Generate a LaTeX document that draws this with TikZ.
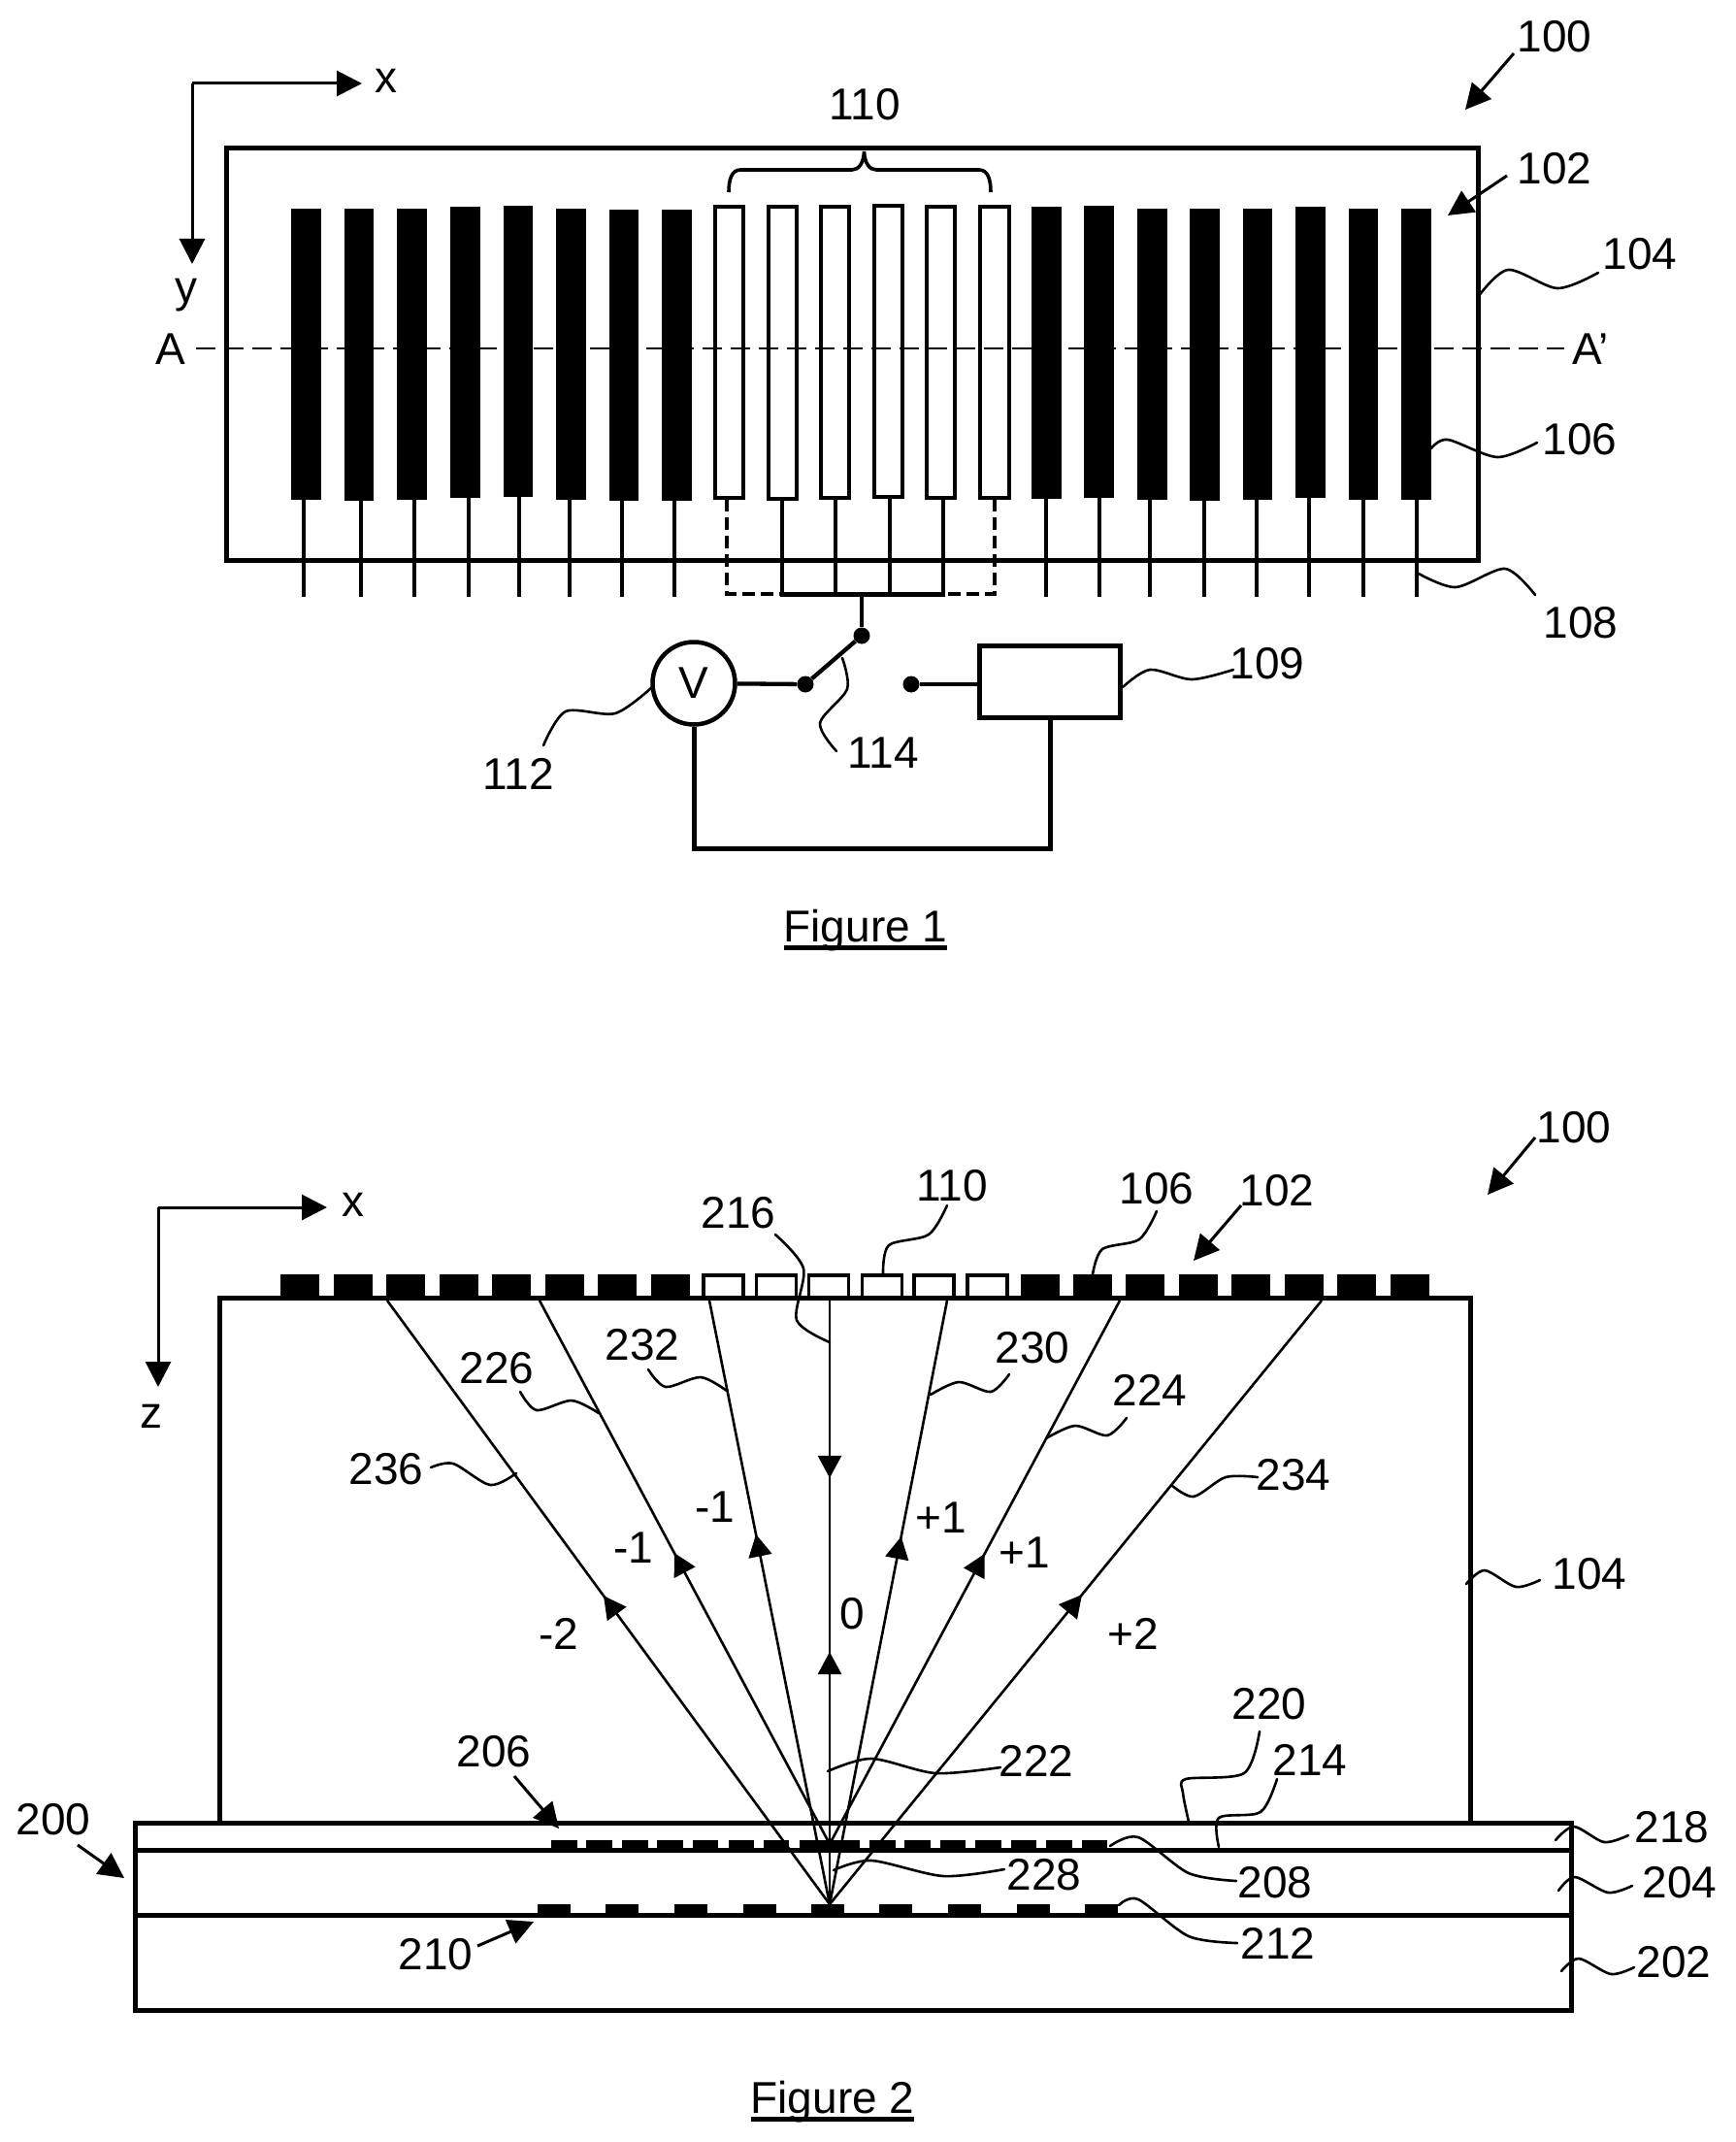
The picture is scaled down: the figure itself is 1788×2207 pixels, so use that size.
\documentclass[tikz,border=0pt]{standalone}
\usepackage{fontspec}
\setmainfont{Liberation Sans}
\usetikzlibrary{arrows.meta,decorations.markings}
\newcommand{\figtitle}[1]{\setbox0\hbox{#1}\rlap{\rule[-9pt]{\wd0}{5pt}}\box0}
\tikzset{
  lab/.style={font=\fontsize{46}{50}\selectfont,inner sep=0pt},
  wire/.style={line width=5pt},
  lead/.style={line width=4.3pt},
  thin line/.style={line width=3pt},
  leader/.style={line width=2.6pt,line cap=round},
  pointer/.style={line width=3pt,-{Triangle[length=26pt,width=26pt]}},
  axis/.style={line width=3pt,-{Triangle[length=26pt,width=26pt]}},
  dot/.style={circle,fill=black,inner sep=0pt,minimum size=17pt},
  ray/.style={line width=2.6pt,postaction={decorate},
    decoration={markings,mark=at position #1 with {\arrow{Triangle[length=23pt,width=24pt]}}}},
}
\begin{document}
\begin{tikzpicture}[x=1pt,y=-1pt] % picture in pixels, y downwards
\useasboundingbox (0,0) rectangle (1788,2207);
% Figure 1: axes
\coordinate (oa) at (198,86);
\node[lab] (xa) at (398,83) {x};
\node[lab] (ya) at (192,304) {y};
\draw[axis] (oa) -- (373,86);
\draw[axis] (oa) -- (198,272);
% Figure 1: substrate
\draw[wire] (233,153) rectangle (1523,577);
% section line A-A'
\node[lab] (aa) at (176,360) {A};
\node[lab] (ab) at (1639,360) {A’};
\draw[line width=2.6pt,dash pattern=on 20pt off 9pt] (202,359) -- (1612,359);
% black electrodes
\foreach \xa/\xb/\ya/\yb in {300/331/215/515,355/385/215/516,409/440/215/515,464/495/213/513,
  519/549/212/512,573/604/215/515,628/658/216/516,682/713/216/516,
  1063/1094/213/514,1117/1148/212/513,1172/1203/215/515,1226/1257/215/516,
  1281/1311/215/515,1335/1366/213/513,1390/1420/215/515,1444/1475/215/515}
  \fill (\xa,\ya) rectangle (\xb,\yb);
% white electrodes
\foreach \xa/\xb/\ya/\yb in {737/766/213/513,791.5/821/213/514,846/875/213/513,
  900.5/930.4/212/512,955/984/213/513,1009.6/1039.5/213/513}
  \draw[line width=4pt] (\xa,\ya) rectangle (\xb,\yb);
% leads of the black electrodes
\foreach \xa in {313,372,427,483,535,587,641,695,1078,1133,1185,1241,1295,1349,1405,1460}
  \draw[lead] (\xa,512) -- (\xa,615);
% leads of the white electrodes
\foreach \xa in {806,861,917,972}
  \draw[lead] (\xa,514) -- (\xa,612);
\draw[lead,dash pattern=on 13pt off 6pt] (749,514) -- (749,612) -- (806,612);
\draw[lead,dash pattern=on 13pt off 6pt] (1025,514) -- (1025,612) -- (972,612);
\draw[wire] (804,612) -- (974,612);
% brace
\draw[line width=3.6pt] (751,198) .. controls (751,185) and (754,175) .. (763,175) -- (878,175)
  .. controls (885,175) and (890,168) .. (890.5,156) .. controls (891,168) and (896,175) .. (903,175)
  -- (1009,175) .. controls (1018,175) and (1021,185) .. (1021,198);
\node[lab] (l110a) at (891,108) {110};
% voltage source, switch and box
\node[circle,draw,line width=4.5pt,minimum size=85pt,inner sep=0pt,font=\fontsize{46}{50}\selectfont] (volt) at (715,704) {V};
\node[dot] (swa) at (830,705) {};
\node[dot] (swb) at (888,655) {};
\node[dot] (swc) at (939,705) {};
\node[draw,line width=5pt,minimum width=145pt,minimum height=74pt,inner sep=0pt] (box) at (1082,702) {};
\coordinate (bus) at (888,612);
\coordinate (ret) at (880,874);
\draw[lead] (bus) -- (swb);
\draw[lead] (swa) -- (swb);
\draw[lead] (volt) -- (swa);
\draw[lead] (swc) -- (swc-|box.west);
\draw[wire] (volt.south) |- (ret) -| (box.south);
% Figure 1: labels
\node[lab] (l100a) at (1602,38) {100};
\node[lab] (l102a) at (1602,174) {102};
\node[lab] (l104a) at (1690,262) {104};
\node[lab] (l106a) at (1628,453) {106};
\node[lab] (l108) at (1629,642) {108};
\node[lab] (l109) at (1306,684) {109};
\node[lab] (l112) at (534,797) {112};
\node[lab] (l114) at (910,776) {114};
\node[lab,anchor=base] (fa) at (892,970) {\figtitle{Figure 1}};
\draw[pointer] (1560,55) -- (1510,113);
\draw[pointer] (1553,181) -- (1492,222);
\draw[leader] plot[smooth] coordinates {(1523,306) (1554,278) (1605,297) (1647,281)};
\draw[leader] plot[smooth] coordinates {(1475,462) (1492,453) (1543,471) (1584,456)};
\draw[leader] plot[smooth] coordinates {(1460,590) (1500,605) (1551,586) (1582,613)};
\draw[leader] plot[smooth] coordinates {(1157,708) (1185,690) (1228,700) (1271,690)};
\draw[leader] plot[smooth] coordinates {(672,708) (634,735) (583,733) (560,768)};
\draw[leader] plot[smooth] coordinates {(868,678) (873,710) (845,745) (862,774)};
% Figure 2: axes
\coordinate (ob) at (163,1244);
\node[lab] (xb) at (364,1241) {x};
\node[lab] (zb) at (156,1459) {z};
\draw[axis] (ob) -- (337,1244);
\draw[axis] (ob) -- (163,1429);
% block and substrate layers
\draw[wire] (226,1878) -- (226,1337) -- (1515,1337) -- (1515,1878);
\draw[wire] (139,1878) rectangle (1619,2071);
\draw[wire] (139,1906) -- (1619,1906);
\draw[wire] (139,1973) -- (1619,1973);
% top electrodes
\foreach \xa in {289,344,398,453,507,562,616,671,1052,1106,1160,1215,1269,1324,1378,1433}
  \fill (\xa,1313) rectangle ++(40,24);
\foreach \xa in {725,779.5,833.5,888.5,942,997}
  \draw[line width=3.5pt] (\xa,1314) rectangle ++(41,23);
% upper grating
\foreach \xa/\xb in {568/595,604/631,641/668,677/704,714/740,750.5/777,787/813,823.5/886,
  896/923,932/959,969/995,1005/1032,1042/1068,1078/1105,1115/1141}
  \fill (\xa,1896) rectangle (\xb,1906);
% lower grating
\foreach \xa in {554,624,695,766,836,906,977,1048,1118}
  \fill (\xa,1962) rectangle ++(34,11);
% rays
\coordinate (apex) at (855,1962);
\coordinate (apexup) at (855,1900);
\coordinate (topz) at (855,1340);
\coordinate (topa) at (399,1340);
\coordinate (topb) at (556,1340);
\coordinate (topc) at (731,1340);
\coordinate (topd) at (976,1340);
\coordinate (tope) at (1154,1340);
\coordinate (topf) at (1362,1340);
\draw[ray=.294] (topz) -- (apex);
\draw[ray=.418] (apex) -- (topz);
\draw[ray=.511] (apex) -- (topa);
\draw[ray=.536] (apexup) -- (topb);
\draw[ray=.613] (apex) -- (topc);
\draw[ray=.609] (apex) -- (topd);
\draw[ray=.534] (apexup) -- (tope);
\draw[ray=.513] (apex) -- (topf);
% order labels
\node[lab] (om2) at (576,1683) {-2};
\node[lab] (om1) at (653,1595) {-1};
\node[lab] (om1b) at (737,1553) {-1};
\node[lab] (oz) at (878,1663) {0};
\node[lab] (op1b) at (970,1564) {+1};
\node[lab] (op1) at (1056,1600) {+1};
\node[lab] (op2) at (1168,1683) {+2};
% Figure 2: labels
\node[lab] (l100b) at (1622,1162) {100};
\node[lab] (l102b) at (1316,1227) {102};
\node[lab] (l106b) at (1192,1225) {106};
\node[lab] (l110b) at (981,1222) {110};
\node[lab] (l216) at (761,1250) {216};
\node[lab] (l230) at (1064,1389) {230};
\node[lab] (l232) at (662,1386) {232};
\node[lab] (l224) at (1185,1432) {224};
\node[lab] (l226) at (512,1410) {226};
\node[lab] (l234) at (1333,1520) {234};
\node[lab] (l236) at (398,1514) {236};
\node[lab] (l104b) at (1638,1622) {104};
\node[lab] (l220) at (1308,1756) {220};
\node[lab] (l206) at (509,1805) {206};
\node[lab] (l214) at (1350,1813) {214};
\node[lab] (l222) at (1068,1814) {222};
\node[lab] (l200) at (55,1875) {200};
\node[lab] (l218) at (1723,1883) {218};
\node[lab] (l204) at (1731,1940) {204};
\node[lab] (l228) at (1076,1932) {228};
\node[lab] (l208) at (1314,1940) {208};
\node[lab] (l212) at (1317,2002) {212};
\node[lab] (l202) at (1725,2022) {202};
\node[lab] (l210) at (449,2014) {210};
\node[lab,anchor=base] (fb) at (858,2177) {\figtitle{Figure 2}};
% pointers
\draw[pointer] (1582,1172) -- (1533,1231);
\draw[pointer] (1279,1242) -- (1230,1299);
\draw[pointer] (530,1830) -- (576,1884);
\draw[pointer] (492,2005) -- (550,1980);
\draw[pointer] (80,1901) -- (128,1935);
% leaders
\draw[leader] plot[smooth] coordinates {(799,1272) (828,1307) (821,1360) (855,1383)};
\draw[leader] plot[smooth] coordinates {(910,1312) (916,1283) (957,1272) (976,1242)};
\draw[leader] plot[smooth] coordinates {(1126,1313) (1136,1287) (1174,1277) (1192,1248)};
\draw[leader] plot[smooth] coordinates {(959,1437) (988,1424) (1021,1434) (1040,1416)};
\draw[leader] plot[smooth] coordinates {(1078,1482) (1108,1469) (1141,1479) (1161,1461)};
\draw[leader] plot[smooth] coordinates {(668,1411) (686,1429) (722,1419) (749,1433)};
\draw[leader] plot[smooth] coordinates {(536,1434) (553,1453) (589,1443) (617,1456)};
\draw[leader] plot[smooth] coordinates {(444,1512) (467,1508) (505,1530) (532,1518)};
\draw[leader] plot[smooth] coordinates {(1207,1530) (1230,1542) (1263,1522) (1296,1522)};
\draw[leader] plot[smooth] coordinates {(1511,1632) (1530,1618) (1562,1635) (1587,1628)};
\draw[leader] plot[smooth] coordinates {(1603,1896) (1622,1882) (1653,1898) (1678,1891)};
\draw[leader] plot[smooth] coordinates {(1606,1948) (1623,1934) (1657,1950) (1682,1943)};
\draw[leader] plot[smooth] coordinates {(1609,2031) (1627,2018) (1660,2034) (1684,2027)};
\draw[leader] plot[smooth] coordinates {(1298,1784) (1282,1827) (1222,1833) (1219,1847) (1225,1877)};
\draw[leader] plot[smooth] coordinates {(1316,1833) (1299,1867) (1256,1873) (1256,1903)};
\draw[leader] plot[smooth] coordinates {(853,1825) (898,1812) (964,1827) (1031,1821)};
\draw[leader] plot[smooth] coordinates {(859,1927) (898,1917) (972,1933) (1035,1926)};
\draw[leader] plot[smooth] coordinates {(1144,1902) (1173,1893) (1225,1930) (1274,1938)};
\draw[leader] plot[smooth] coordinates {(1153,1963) (1173,1957) (1225,1995) (1275,2002)};
\end{tikzpicture}
\end{document}
